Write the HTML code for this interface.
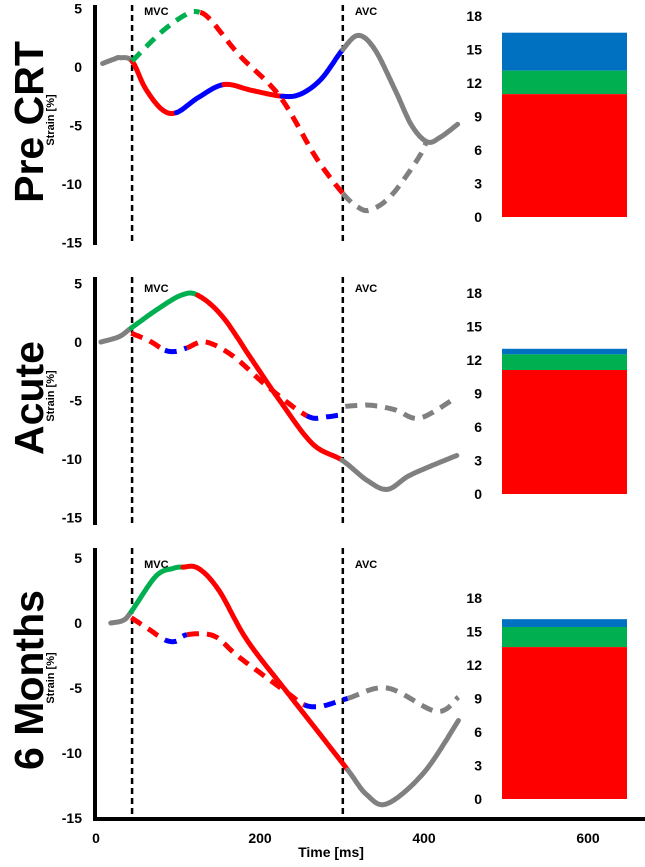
<!DOCTYPE html>
<html><head><meta charset="utf-8"><style>
body{margin:0;background:#fff;width:645px;height:862px;overflow:hidden}
svg text{font-family:"Liberation Sans",Arial,sans-serif;font-weight:bold}
</style></head><body>
<svg id="c" width="645" height="862"></svg>
<script>
const panelNames=["Pre CRT","Acute","6 Months"];
const yTicks=[5,0,-5,-10,-15];
const barTicks=[0,3,6,9,12,15,18];
const xTicks=[0,200,400,600];
const mvcTime=44, avcTime=301;
const barRed=[11.0,11.1,13.6];
const barGreen=[13.1,12.5,15.4];
const barBlue=[16.5,13.0,16.1];
// curves: [dashed, times, values, colour breaks [[untilTime,colour],...]]
const p1Solid=[0,[8,23,29,44,60,80,98,125,156,190,227,250,275,301,320,340,365,385,404,420,441],
 [0.3,0.7,0.8,0.5,-1.8,-3.6,-3.9,-2.6,-1.5,-2.0,-2.5,-2.3,-1.0,1.5,2.7,1.5,-2,-5,-6.4,-6.0,-4.9],
 [[44,"gray"],[98,"red"],[156,"blue"],[227,"red"],[301,"blue"],[999,"gray"]]];
const p1Dash=[1,[44,80,110,125,140,175,224,268,301,320,335,360,393,404],
 [0.5,3,4.5,4.7,4.0,1.0,-2.5,-7.7,-10.8,-12.0,-12.2,-11,-7.8,-6.2],
 [[127,"green"],[301,"red"],[999,"gray"]]];
const p2Solid=[0,[6,28,43,75,104,124,154,190,224,264,300,330,355,380,405,440],
 [0,0.45,1.2,2.8,4.0,4.0,2.2,-1.5,-5.0,-8.7,-10.1,-11.8,-12.6,-11.5,-10.7,-9.7],
 [[43,"gray"],[124,"green"],[300,"red"],[999,"gray"]]];
const p2Dash=[1,[43,65,84,98,111,134,168,209,257,280,300],
 [0.75,0.1,-0.7,-0.8,-0.5,0,-1.25,-3.8,-6.3,-6.4,-6.2],
 [[84,"red"],[111,"blue"],[257,"red"],[999,"blue"]]];
const p2DashGray=[1,[304,334,365,395,440],[-5.5,-5.4,-5.8,-6.5,-4.7],[[999,"gray"]]];
const p3Solid=[0,[18,33,43,73,94,106,125,150,184,234,270,307,330,355,400,442],
 [0,0.2,0.87,3.6,4.2,4.3,4.2,2.5,-1.3,-5.4,-8.3,-11.3,-13.2,-13.9,-11.5,-7.5],
 [[43,"gray"],[106,"green"],[307,"red"],[999,"gray"]]];
const p3Dash=[1,[43,65,84,98,111,144,174,234,254,275,307,355,415,442],
 [0.4,-0.5,-1.3,-1.4,-0.9,-1.0,-2.6,-5.4,-6.3,-6.4,-5.8,-5.0,-6.8,-5.7],
 [[84,"red"],[111,"blue"],[254,"red"],[307,"blue"],[999,"gray"]]];
const allCurves=[[p1Solid,p1Dash],[p2Solid,p2Dash,p2DashGray],[p3Solid,p3Dash]];

const colors={red:"#ff0000",green:"#00b050",blue:"#0000ff",gray:"#808080"};
const panels=[{zero:67,k:11.7,top:5,bot:245,barBase:217,label:10},
{zero:342,k:11.7,top:277,bot:525,barBase:494,label:287},
{zero:623,k:13,top:548,bot:818,barBase:799,label:563}];
const barK=11.17;
const NS="http://www.w3.org/2000/svg";
const svg=document.getElementById('c');
function xs(t){return 96+0.82*t;}
function mk(tag,attrs,parent){const e=document.createElementNS(NS,tag);for(const a in attrs)e.setAttribute(a,attrs[a]);(parent||svg).appendChild(e);return e;}
// sample catmull-rom in (t,v) space
function sample(T,V){const out=[];const n=T.length;
 for(let i=0;i<n-1;i++){const i0=Math.max(0,i-1),i3=Math.min(n-1,i+2);
  for(let s=0;s<20;s++){const u=s/20,u2=u*u,u3=u2*u;
   const f=(a,b,c,d)=>0.5*((2*b)+(-a+c)*u+(2*a-5*b+4*c-d)*u2+(-a+3*b-3*c+d)*u3);
   out.push([f(T[i0],T[i],T[i+1],T[i3]),f(V[i0],V[i],V[i+1],V[i3])]);}}
 out.push([T[n-1],V[n-1]]);return out;}

panels.forEach((P,i)=>{
  const g=mk('g',{});
  
  
  const ys=v=>P.zero-v*P.k;
  const cy=(P.top+P.bot)/2;
  const t=mk('text',{x:0,y:0,'font-size':41,transform:`translate(43,${cy-3}) rotate(-90)`,'text-anchor':'middle'},g);t.textContent=panelNames[i];
  
  
  const s=mk('text',{x:0,y:0,'font-size':11,transform:`translate(54,${cy-5}) rotate(-90)`,'text-anchor':'middle'},g);s.textContent="Strain [%]";
  
  
  yTicks.forEach(v=>{const tl=mk('text',{x:82,y:ys(v)+5,'font-size':14,'text-anchor':'end'},g);tl.textContent=v;
    
    });
  const ax=mk('line',{x1:95,x2:95,y1:P.top,y2:P.bot+(i==2?2:0),stroke:'#000','stroke-width':4},g);
  
  
  [mvcTime,avcTime].forEach((tm,j)=>{
    const l=mk('line',{x1:xs(tm),x2:xs(tm),y1:P.top,y2:P.bot,stroke:'#000','stroke-width':2.5,'stroke-dasharray':'6,4'},g);
    
    
    const lb=mk('text',{x:xs(tm)+12,y:P.label+5,'font-size':11},g);lb.textContent=j?"AVC":"MVC";
    
    
  });
  allCurves[i].forEach(cv=>{
    const pts=sample(cv[1],cv[2]);
    let start=-1e9;
    cv[3].forEach(br=>{
      const seg=pts.filter(p=>p[0]>=start&&p[0]<=br[0]);
      start=br[0];
      if(seg.length<2)return;
      const d="M"+seg.map(p=>xs(p[0]).toFixed(1)+","+ys(p[1]).toFixed(1)).join(" L");
      const pa=mk('path',{d:d,fill:'none',stroke:colors[br[1]],'stroke-width':5,'stroke-linecap':cv[0]?'butt':'round','stroke-linejoin':'round','stroke-dasharray':cv[0]?'12,8':'none'},g);
      
      
    });
  });
  const by=v=>P.barBase-v*barK;
  barTicks.forEach(v=>{const tl=mk('text',{x:482,y:by(v)+5,'font-size':14,'text-anchor':'end'},g);tl.textContent=v;
    
    });
  [[barBlue[i],barGreen[i],'#0070c0','bar-blue'],[barGreen[i],barRed[i],'#00b050','bar-green'],[barRed[i],0,'#ff0000','bar-red']].forEach(b=>{
    const r=mk('rect',{x:502,width:125,y:by(b[0]),height:by(b[1])-by(b[0]),fill:b[2]},g);
    
    
  });
});
const xa=mk('line',{x1:93,x2:645,y1:819,y2:819,stroke:'#000','stroke-width':4});


xTicks.forEach(v=>{const tl=mk('text',{x:xs(v),y:843,'font-size':14,'text-anchor':'middle'});tl.textContent=v;
  
  });
const xt=mk('text',{x:331,y:857,'font-size':14,'text-anchor':'middle'});xt.textContent="Time [ms]";


</script>
</body></html>
